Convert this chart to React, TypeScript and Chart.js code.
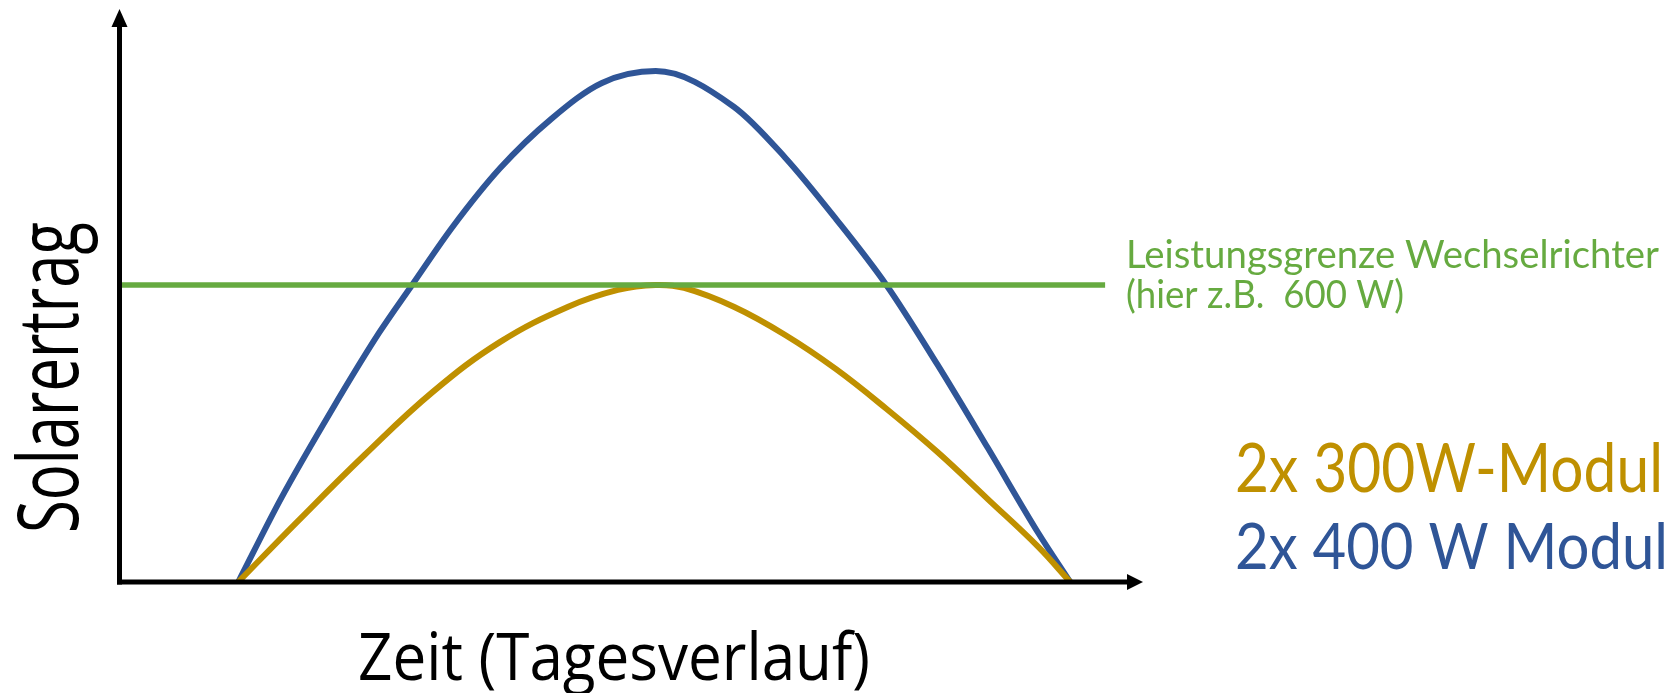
import React, { useEffect, useRef } from "react";
import { Chart, registerables } from "chart.js";

Chart.register(...registerables);

// Time of day (hours) and yield (W)
const blueHours = [6, 6.72, 7.57, 8.38, 8.94, 9.63, 10.43, 11.29, 12.15, 13.06, 14.38, 15.25, 16.11, 16.96, 17.82, 18.68, 19.53, 20.07];
const blueYield = [0, 168, 345, 503, 600, 718, 836, 935, 1008, 1032, 960, 857, 733, 600, 440, 270, 99, 0];

const goldHours = [6, 7.0, 8.14, 9.29, 10.43, 11.58, 12.42, 13.06, 13.54, 14.38, 15.25, 16.11, 16.96, 17.82, 18.68, 19.53, 20.07];
const goldYield = [0, 122, 257, 384, 485, 556, 590, 600, 594, 556, 499, 430, 350, 263, 167, 71, 0];

const limitHours = [4, 20.66];
const limitYield = [600, 600];

const X_MIN = 4;
const X_MAX = 21.25;
const Y_MIN = 0;
const Y_MAX = 1123;

const BLUE = "#2F5597";
const GOLD = "#BF9000";
const GREEN = "#66AA40";

const yTitle = "Solarertrag";
const xTitle = "Zeit (Tagesverlauf)";
const limitLabel1 = "Leistungsgrenze Wechselrichter";
const limitLabel2 = "(hier z.B.  600 W)";
const goldLabel = "2x 300W-Modul";
const blueLabel = "2x 400 W Modul";

function toPoints(xs: number[], ys: number[]) {
  return xs.map((x, i) => ({ x, y: ys[i] }));
}

function fitText(
  ctx: CanvasRenderingContext2D,
  text: string,
  x: number,
  y: number,
  family: string,
  size: number,
  color: string,
  width: number,
  rotate = false
) {
  ctx.save();
  ctx.font = `${size}px ${family}`;
  ctx.fillStyle = color;
  ctx.textBaseline = "alphabetic";
  ctx.textAlign = "left";
  const w = ctx.measureText(text).width;
  ctx.translate(x, y);
  if (rotate) ctx.rotate(-Math.PI / 2);
  ctx.scale(width / w, 1);
  ctx.fillText(text, 0, 0);
  ctx.restore();
}

const decorPlugin = {
  id: "decor",
  afterDatasetsDraw(chart: any) {
    const ctx: CanvasRenderingContext2D = chart.ctx;
    const { left, bottom, top, right } = chart.chartArea;
    ctx.save();
    ctx.strokeStyle = "#000";
    ctx.fillStyle = "#000";
    ctx.lineWidth = 5;
    ctx.lineCap = "butt";
    // y axis
    ctx.beginPath();
    ctx.moveTo(left - 0.5, top + 1);
    ctx.lineTo(left - 0.5, bottom + 2.5);
    ctx.stroke();
    // x axis
    ctx.beginPath();
    ctx.moveTo(left - 3, bottom);
    ctx.lineTo(right - 10, bottom);
    ctx.stroke();
    // y arrow
    ctx.beginPath();
    ctx.moveTo(left - 0.5, top - 17);
    ctx.lineTo(left - 8.5, top + 1);
    ctx.lineTo(left + 7.5, top + 1);
    ctx.closePath();
    ctx.fill();
    // x arrow
    ctx.beginPath();
    ctx.moveTo(right + 3, bottom);
    ctx.lineTo(right - 13, bottom - 8);
    ctx.lineTo(right - 13, bottom + 8);
    ctx.closePath();
    ctx.fill();
    ctx.restore();

    fitText(ctx, yTitle, 78, 533, "'Open Sans'", 84, "#000", 311, true);
    fitText(ctx, xTitle, 358, 680, "'Open Sans'", 65, "#000", 512);
    fitText(ctx, limitLabel1, 1126, 268, "Lato", 39, GREEN, 533);
    fitText(ctx, limitLabel2, 1126, 308, "Lato", 39, GREEN, 278);
    fitText(ctx, goldLabel, 1235, 492, "Lato", 67, GOLD, 428);
    fitText(ctx, blueLabel, 1235, 569, "Lato", 63, BLUE, 433);
  },
};

export default function App() {
  const ref = useRef<HTMLCanvasElement | null>(null);

  useEffect(() => {
    if (!ref.current) return;
    const chart = new Chart(ref.current, {
      type: "line",
      data: {
        datasets: [
          {
            label: "Leistungsgrenze",
            data: toPoints(limitHours, limitYield),
            borderColor: GREEN,
            borderWidth: 5.5,
            pointRadius: 0,
            tension: 0,
          },
          {
            label: goldLabel,
            data: toPoints(goldHours, goldYield),
            borderColor: GOLD,
            borderWidth: 6,
            pointRadius: 0,
            tension: 0.4,
          },
          {
            label: blueLabel,
            data: toPoints(blueHours, blueYield),
            borderColor: BLUE,
            borderWidth: 6,
            pointRadius: 0,
            cubicInterpolationMode: "monotone",
          },
        ],
      },
      options: {
        responsive: false,
        animation: false,
        layout: { padding: { left: 120, right: 540, top: 26, bottom: 111 } },
        plugins: { legend: { display: false }, tooltip: { enabled: false }, title: { display: false } },
        scales: {
          x: { type: "linear", min: X_MIN, max: X_MAX, display: false },
          y: { type: "linear", min: Y_MIN, max: Y_MAX, display: false },
        },
      },
      plugins: [decorPlugin],
    } as any);
    return () => chart.destroy();
  }, []);

  return (
    <div style={{ position: "absolute", left: 0, top: 0, width: 1680, height: 693, background: "#fff" }}>
      <canvas ref={ref} width={1680} height={693} style={{ display: "block" }} />
    </div>
  );
}
